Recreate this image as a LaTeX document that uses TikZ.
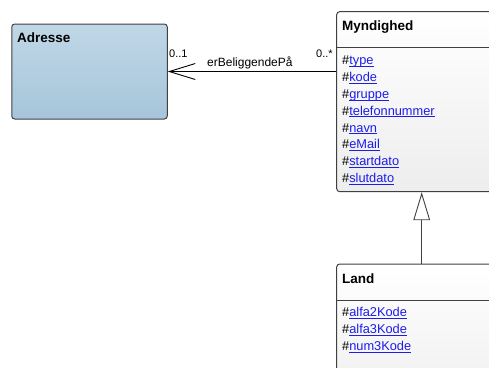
\documentclass[tikz,border=0pt]{standalone}
\usepackage{fontspec}
\setmainfont{Liberation Sans}
\usetikzlibrary{arrows.meta}

\definecolor{linkblue}{RGB}{28,28,235}
\definecolor{umlborder}{RGB}{64,64,64}
\definecolor{adressetop}{RGB}{192,215,231}
\definecolor{adressebot}{RGB}{166,197,218}

\newcommand\attrlink[1]{\#\textcolor{linkblue}{\underline{\smash{#1}}}}

\tikzset{
  classbox/.style={draw=umlborder, line width=1pt, rounded corners=3pt, inner sep=0pt},
  classtitle/.style={anchor=base west, inner sep=0pt, font=\fontsize{13.5}{16}\selectfont\bfseries},
  attr/.style={anchor=base west, inner sep=0pt, font=\fontsize{12.8}{15}\selectfont},
  mult/.style={anchor=base west, inner sep=0pt, font=\fontsize{11}{13}\selectfont},
  assoc/.style={-{Straight Barb[length=26pt,width=16pt]}, line width=0.9pt},
  generalization/.style={-{Triangle[open,length=28pt,width=16.7pt,fill=white]}, line width=0.9pt, draw=umlborder},
}

\begin{document}
\begin{tikzpicture}[x=1pt,y=-1pt]
  \useasboundingbox (0,0) rectangle (489,367);
  \clip (0,0) rectangle (489,367);

  % Adresse
  \node[classbox, minimum width=155.5pt, minimum height=95pt,
        top color=adressetop, bottom color=adressebot] (adresse) at (89.5,71.5) {};
  \node[classtitle] (adressetitle) at (17,42.7) {Adresse};

  % Myndighed
  \node[classbox, minimum width=223pt, minimum height=180pt,
        top color=white, bottom color=black!7] (myndighed) at (448.2,101.7) {};
  \draw[umlborder, line width=1pt] ([yshift=-36.6pt]myndighed.north west) -- ([yshift=-36.6pt]myndighed.north east);
  \node[classtitle] (myndighedtitle) at (342,30.7) {Myndighed};
  \foreach \a [count=\i] in {type,kode,gruppe,telefonnummer,navn,eMail,startdato,slutdato}
    \node[attr] (myn-\i) at (342,47.85+16.85*\i) {\attrlink{\a}};

  % Land
  \node[classbox, minimum width=223pt, minimum height=156pt,
        top color=white, bottom color=black!7] (land) at (448.2,342) {};
  \draw[umlborder, line width=1pt] ([yshift=-37pt]land.north west) -- ([yshift=-37pt]land.north east);
  \node[classtitle] (landtitle) at (342,283.3) {Land};
  \foreach \a [count=\i] in {alfa2Kode,alfa3Kode,num3Kode}
    \node[attr] (land-\i) at (342,299.7+17*\i) {\attrlink{\a}};

  % erBeliggendePå
  \draw[assoc] (myndighed.west |- adresse.east) -- (adresse.east);
  \node[mult] (multadresse) at (169,57) {0..1};
  \node[mult] (multmyndighed) at (316,57) {0..*};
  \node[attr, font=\fontsize{12}{14}\selectfont] (assoclabel) at (207,66) {erBeliggendePå};

  % Land er en Myndighed
  \draw[generalization] ([xshift=85.5pt]land.north west) -- ([xshift=85.5pt]myndighed.south west);
\end{tikzpicture}
\end{document}
